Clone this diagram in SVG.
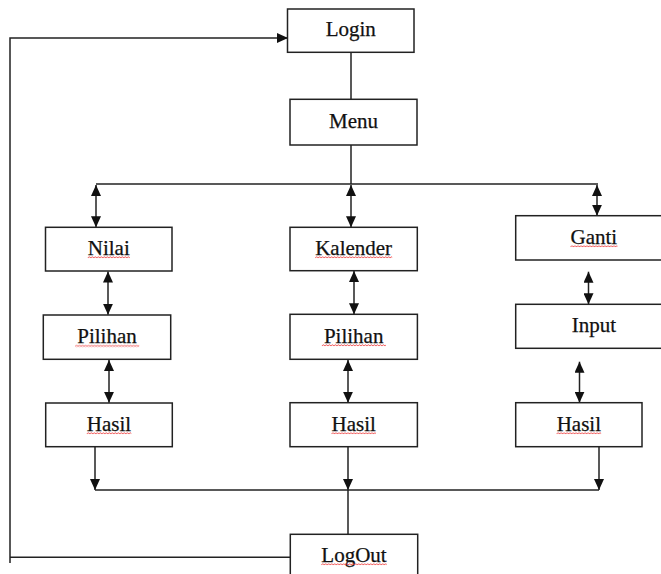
<svg xmlns="http://www.w3.org/2000/svg" width="661" height="574" viewBox="0 0 661 574">
<style>
.box{fill:#fff;stroke:#222;stroke-width:1.5}
.lbl{font-family:"Liberation Serif","Times New Roman",serif;font-size:21px;fill:#111;stroke:#111;stroke-width:0.25;text-anchor:middle}
.ln{fill:none;stroke:#222;stroke-width:1.5}
.arr{marker-end:url(#ah)}
.dbl{marker-start:url(#ah);marker-end:url(#ah)}
.sp{fill:url(#wavy)}
</style>
<defs>
<marker id="ah" viewBox="0 0 11 10" refX="11" refY="5" markerWidth="11" markerHeight="10" markerUnits="userSpaceOnUse" orient="auto-start-reverse">
<path d="M0,0 L11,5 L0,10 z" fill="#111"/>
</marker>
<pattern id="wavy" patternUnits="userSpaceOnUse" width="3" height="3">
<path d="M0,2.2 L1.5,0.6 L3,2.2" fill="none" stroke="#ee3b3b" stroke-width="0.9"/>
</pattern>
</defs>
<rect width="661" height="574" fill="#fff"/>
<g id="connectors">
<path class="ln arr" d="M290,557.3 H10 M10,563 V38 H288"/>
<line class="ln" x1="351" y1="52.3" x2="351" y2="99.3"/>
<line class="ln" x1="351" y1="145" x2="351" y2="184"/>
<line class="ln" x1="96" y1="184" x2="598" y2="184"/>
<line class="ln dbl" x1="96" y1="185" x2="96" y2="227.3"/>
<line class="ln dbl" x1="351" y1="185" x2="351" y2="227.3"/>
<line class="ln dbl" x1="597" y1="185" x2="597" y2="215.7"/>
<line class="ln dbl" x1="108" y1="271.5" x2="108" y2="314.7"/>
<line class="ln dbl" x1="354" y1="271" x2="354" y2="314.3"/>
<line class="ln dbl" x1="588.5" y1="271.7" x2="588.5" y2="304.3"/>
<line class="ln dbl" x1="109" y1="360" x2="109" y2="402.8"/>
<line class="ln dbl" x1="348" y1="360" x2="348" y2="402.7"/>
<line class="ln dbl" x1="579.5" y1="361.7" x2="579.5" y2="402.7"/>
<line class="ln arr" x1="95" y1="447" x2="95" y2="490"/>
<line class="ln arr" x1="348" y1="447" x2="348" y2="490"/>
<line class="ln arr" x1="599" y1="447" x2="599" y2="490"/>
<line class="ln" x1="95" y1="490" x2="599" y2="490"/>
<line class="ln" x1="348" y1="490" x2="348" y2="534.3"/>
</g>
<g id="login">
<rect class="box" x="287.5" y="9" width="126.5" height="43.3"/>
<text class="lbl" x="350.75" y="36">Login</text>
</g>
<g id="menu">
<rect class="box" x="290" y="99.3" width="127" height="45.7"/>
<text class="lbl" x="353.5" y="127.5">Menu</text>
</g>
<g id="nilai">
<rect class="box" x="45.5" y="227.3" width="126.5" height="43.7"/>
<text class="lbl" x="108.75" y="254.5">Nilai</text>
<rect class="sp" transform="translate(87.8,256)" width="42" height="3"/>
</g>
<g id="kalender">
<rect class="box" x="290" y="227.3" width="127.3" height="43.4"/>
<text class="lbl" x="353.65" y="254.5">Kalender</text>
<rect class="sp" transform="translate(315.2,256)" width="77" height="3"/>
</g>
<g id="ganti">
<rect class="box" x="515.7" y="215.7" width="156" height="44.3"/>
<text class="lbl" x="593.85" y="243.5">Ganti</text>
<rect class="sp" transform="translate(570.5,245)" width="47" height="3"/>
</g>
<g id="pilihan1">
<rect class="box" x="43.3" y="315" width="127.4" height="44.3"/>
<text class="lbl" x="107" y="343">Pilihan</text>
<rect class="sp" transform="translate(75.2,344.5)" width="64" height="3"/>
</g>
<g id="pilihan2">
<rect class="box" x="290" y="314.3" width="127.4" height="45"/>
<text class="lbl" x="353.7" y="342.5">Pilihan</text>
<rect class="sp" transform="translate(321.9,344)" width="64" height="3"/>
</g>
<g id="input">
<rect class="box" x="515.7" y="304.3" width="156" height="44"/>
<text class="lbl" x="593.85" y="331.8">Input</text>
</g>
<g id="hasil1">
<rect class="box" x="45.7" y="403" width="126.6" height="43.7"/>
<text class="lbl" x="109" y="430.5">Hasil</text>
<rect class="sp" transform="translate(86.8,432)" width="44.5" height="3"/>
</g>
<g id="hasil2">
<rect class="box" x="290" y="402.7" width="127.4" height="44"/>
<text class="lbl" x="353.7" y="430.5">Hasil</text>
<rect class="sp" transform="translate(331.5,432)" width="44.5" height="3"/>
</g>
<g id="hasil3">
<rect class="box" x="515.7" y="402.7" width="126.3" height="44"/>
<text class="lbl" x="578.85" y="430.5">Hasil</text>
<rect class="sp" transform="translate(556.6,432)" width="44.5" height="3"/>
</g>
<g id="logout">
<rect class="box" x="290.3" y="534.3" width="127.4" height="55"/>
<text class="lbl" x="354" y="561.5">LogOut</text>
<rect class="sp" transform="translate(321.3,563)" width="65.5" height="3"/>
</g>
</svg>
